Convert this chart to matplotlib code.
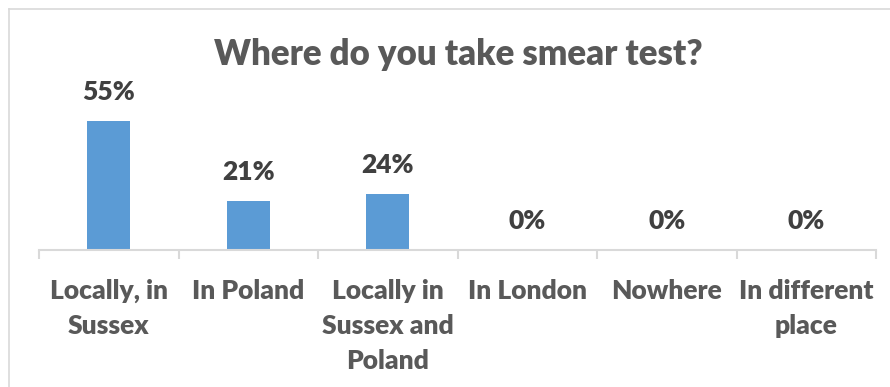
import matplotlib
matplotlib.use("Agg")
import matplotlib.pyplot as plt
from matplotlib.lines import Line2D

# data
categories = ["Locally, in\nSussex", "In Poland", "Locally in\nSussex and\nPoland",
              "In London", "Nowhere", "In different\nplace"]
values = [55, 21, 24, 0, 0, 0]
title = "Where do you take smear test?"

W, H = 890, 387
BAR = "#5B9BD5"
GRID = "#D9D9D9"
TXT = "#595959"
VAL = "#404040"

plt.rcParams["font.family"] = ["Lato", "DejaVu Sans"]
WEIGHT = "heavy"

fig = plt.figure(figsize=(W / 100, H / 100), dpi=100)

# chart border: only left and top edges are inside the crop
bx, by = 9 / W, (H - 9) / H
fig.add_artist(Line2D([bx, bx], [0, by], transform=fig.transFigure,
                      color=GRID, linewidth=1.2))
fig.add_artist(Line2D([bx, 1], [by, by], transform=fig.transFigure,
                      color=GRID, linewidth=1.2))

# axes placed in pixel coordinates: x 39..876, baseline at y=250
ax = fig.add_axes([39 / W, (H - 250) / H, (876 - 39) / W, 188 / H])
x = list(range(len(categories)))
ax.bar(x, values, width=0.31, color=BAR, zorder=2)
ax.set_xlim(-0.5, len(categories) - 0.5)
ax.set_ylim(0, 80)

for xi, v in zip(x, values):
    ax.annotate(f"{v}%", (xi, v), xytext=(0, 12), textcoords="offset points",
                ha="center", va="bottom", fontsize=19, fontweight=WEIGHT,
                color=VAL)

for s in ("top", "right", "left"):
    ax.spines[s].set_visible(False)
ax.spines["bottom"].set_color(GRID)
ax.spines["bottom"].set_linewidth(1.5)
ax.set_yticks([])

ax.set_xticks(x)
ax.set_xticklabels(categories, fontsize=19, fontweight=WEIGHT, color=TXT,
                   linespacing=1.55)
ax.tick_params(axis="x", which="major", length=0, pad=21)
ax.set_xticks([i - 0.5 for i in range(len(categories) + 1)], minor=True)
ax.tick_params(axis="x", which="minor", length=6.5, width=1.5, color=GRID)

fig.text(458 / W, (H - 65) / H, title, ha="center", va="baseline",
         fontsize=25, fontweight=WEIGHT, color=TXT)

fig.savefig("out.png", dpi=100)
